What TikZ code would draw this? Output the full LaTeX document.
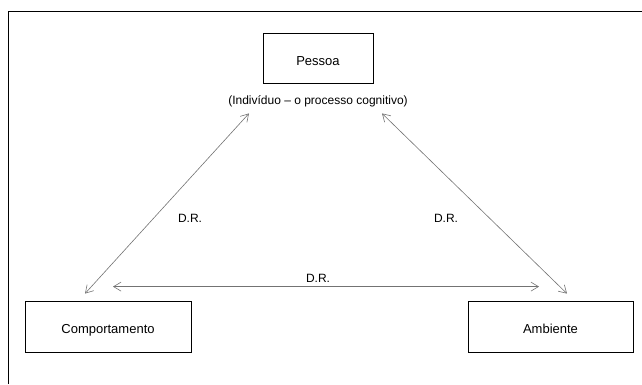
\documentclass[tikz,border=0pt]{standalone}
\usepackage{fontspec}
\setmainfont{Liberation Sans}
\usetikzlibrary{arrows.meta}
\tikzstyle{box} = [rectangle, minimum height=50pt, text height=14pt, text depth=0pt, text centered, draw=black, line width=0.8pt, font=\fontsize{13}{15}\selectfont]
\tikzstyle{note} = [font=\fontsize{12}{14}\selectfont, inner sep=0pt]
\tikzstyle{arrow} = [draw=black!55, line width=0.6pt, {Straight Barb[length=7.5pt,width=9pt]}-{Straight Barb[length=7.5pt,width=9pt]}]

\begin{document}
\begin{tikzpicture}[x=1pt, y=-1pt, node distance=43pt]
\useasboundingbox (0,0) rectangle (642,384);
\draw [line width=0.9pt] (8,384) -- (8,11) -- (642,11);

\node (pessoa) [box, minimum width=110pt] at (318,58) {Pessoa};
\node (sub) [note, below of=pessoa] {(Indivíduo -- o processo cognitivo)};

\node (comp) [box, minimum width=166pt, minimum height=51pt] at (108,326.5) {Comportamento};
\node (amb) [box, minimum width=165pt, minimum height=51pt] at (550.5,326.5) {Ambiente};

\draw [arrow] ([xshift=-23pt,yshift=7pt]comp.north) -- ([xshift=-69pt,yshift=-30pt]pessoa.south);
\draw [arrow] ([xshift=64pt,yshift=-30pt]pessoa.south) -- ([xshift=16.5pt,yshift=7pt]amb.north);
\draw [arrow] ([xshift=5pt,yshift=14pt]comp.north) -- ([xshift=-11.5pt,yshift=14pt]amb.north);

\node (dr1) [note] at (190,218) {D.R.};
\node (dr2) [note] at (446,218) {D.R.};
\node (dr3) [note] at (318,278) {D.R.};
\end{tikzpicture}
\end{document}
